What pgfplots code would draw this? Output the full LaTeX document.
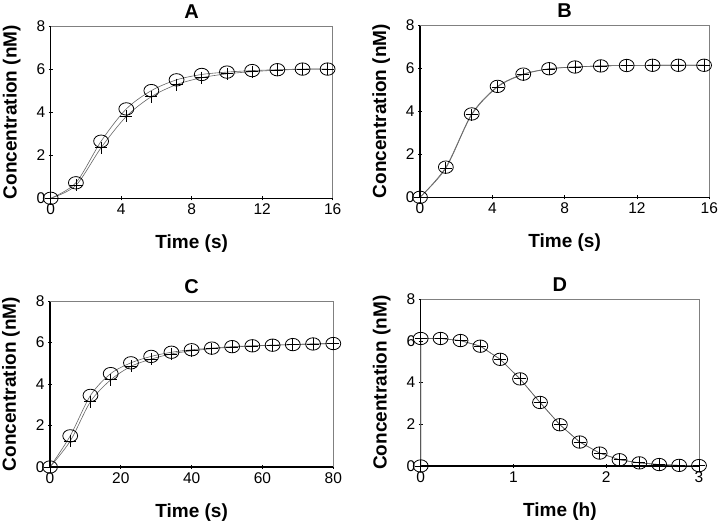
\documentclass[border=0pt]{standalone}
\usepackage{fontspec}
\setmainfont{Liberation Sans}
\usepackage{pgfplots}
\pgfplotsset{compat=1.18}

\pgfplotsset{
  panel/.style={
    scale only axis, anchor=south west,
    axis lines=left, axis line style={-, black, line width=1.1pt},
    xmin=0, ymin=0, ymax=8, ytick={0,2,4,6,8},
    tick style={black, line width=0.8pt}, major tick length=4pt,
    tick align=center,
    /pgf/number format/assume math mode=true,
    tick label style={font=\fontsize{15.5}{15.5}\selectfont},
    ylabel={Concentration (nM)},
    ylabel style={font=\fontsize{19}{19}\selectfont\bfseries,
      at={([xshift=-34pt]axis description cs:0,0.5)}, anchor=base},
    xlabel style={font=\fontsize{19}{19}\selectfont\bfseries,
      at={([yshift=-50pt]axis description cs:0.5,0)}, anchor=base},
    every axis title/.style={font=\fontsize{20}{20}\selectfont\bfseries,
      at={(0.5,1)}, anchor=base, yshift=8pt},
    clip=false,
  },
  circ/.style={gray!80!black, line width=0.6pt, mark=o, mark size=6.2pt,
    mark options={black, solid, fill=white, line width=0.8pt, xscale=1.2}},
  plus/.style={gray!80!black, line width=0.6pt, mark=+, mark size=6pt,
    mark options={black, solid, line width=0.8pt}},
}

\begin{document}
\begin{tikzpicture}
\useasboundingbox (0,0) rectangle (720pt,522pt);

% A
\begin{axis}[panel, at={(50.7pt,323.7pt)}, width=282pt, height=172.3pt,
  xmax=16, xtick={0,4,8,12,16}, xlabel={Time (s)}, title={A}]
  \addplot[circ, smooth] coordinates {(0,0)(1.43,0.72)(2.86,2.65)(4.29,4.15)(5.71,5.0)
    (7.14,5.5)(8.57,5.75)(10,5.86)(11.43,5.93)(12.86,5.97)(14.29,6.0)(15.71,6.0)};
  \addplot[plus, smooth] coordinates {(0,0)(1.43,0.6)(2.86,2.35)(4.29,3.8)(5.71,4.72)
    (7.14,5.28)(8.57,5.6)(10,5.78)(11.43,5.88)(12.86,5.95)(14.29,5.99)(15.71,6.0)};
  \draw[gray, line width=0.6pt] (rel axis cs:0,1) -- (rel axis cs:1,1) -- (rel axis cs:1,0);
\end{axis}

% B
\begin{axis}[panel, at={(420pt,324.7pt)}, width=289.3pt, height=172.3pt,
  xmax=16, xtick={0,4,8,12,16}, xlabel={Time (s)}, title={B}]
  \addplot[circ, smooth] coordinates {(0,0)(1.43,1.4)(2.86,3.87)(4.29,5.15)(5.71,5.72)
    (7.14,5.97)(8.57,6.05)(10,6.1)(11.43,6.12)(12.86,6.13)(14.29,6.13)(15.71,6.13)};
  \addplot[plus, smooth] coordinates {(0,0)(1.43,1.35)(2.86,3.83)(4.29,5.12)(5.71,5.7)
    (7.14,5.96)(8.57,6.05)(10,6.1)(11.43,6.12)(12.86,6.13)(14.29,6.13)(15.71,6.13)};
  \draw[gray, line width=0.6pt] (rel axis cs:0,1) -- (rel axis cs:1,1) -- (rel axis cs:1,0);
\end{axis}

% C
\begin{axis}[panel, at={(50pt,55pt)}, width=283.3pt, height=166pt,
  xmax=80, xtick={0,20,40,60,80}, xlabel={Time (s)}, title={C},
  every axis title/.append style={yshift=-0.5pt}]
  \addplot[circ, smooth] coordinates {(0,0)(5.71,1.5)(11.43,3.45)(17.14,4.5)(22.86,5.02)
    (28.57,5.33)(34.29,5.53)(40,5.65)(45.71,5.73)(51.43,5.8)(57.14,5.84)
    (62.86,5.87)(68.57,5.9)(74.29,5.93)(80,5.95)};
  \addplot[plus, smooth] coordinates {(0,0)(5.71,1.25)(11.43,3.15)(17.14,4.2)(22.86,4.85)
    (28.57,5.2)(34.29,5.45)(40,5.6)(45.71,5.7)(51.43,5.78)(57.14,5.83)
    (62.86,5.87)(68.57,5.9)(74.29,5.93)(80,5.95)};
  \draw[gray, line width=0.6pt] (rel axis cs:0,1) -- (rel axis cs:1,1) -- (rel axis cs:1,0);
\end{axis}

% D
\begin{axis}[panel, at={(420.7pt,56pt)}, width=278.3pt, height=166.7pt,
  xmax=3, xtick={0,1,2,3}, xlabel={Time (h)}, title={D}]
  \addplot[circ] coordinates {(0,0)(0,6.12)(0.214,6.12)(0.429,6.02)(0.643,5.75)
    (0.857,5.12)(1.071,4.18)(1.286,3.05)(1.5,1.98)(1.714,1.15)(1.929,0.62)
    (2.143,0.3)(2.357,0.15)(2.571,0.07)(2.786,0.03)(3,0.02)};
  \addplot[plus] coordinates {(0,0)(0,6.12)(0.214,6.12)(0.429,6.02)(0.643,5.75)
    (0.857,5.12)(1.071,4.18)(1.286,3.05)(1.5,1.98)(1.714,1.15)(1.929,0.62)
    (2.143,0.3)(2.357,0.15)(2.571,0.07)(2.786,0.03)(3,0.02)};
  \draw[gray, line width=0.6pt] (rel axis cs:0,1) -- (rel axis cs:1,1) -- (rel axis cs:1,0);
\end{axis}
\end{tikzpicture}
\end{document}
